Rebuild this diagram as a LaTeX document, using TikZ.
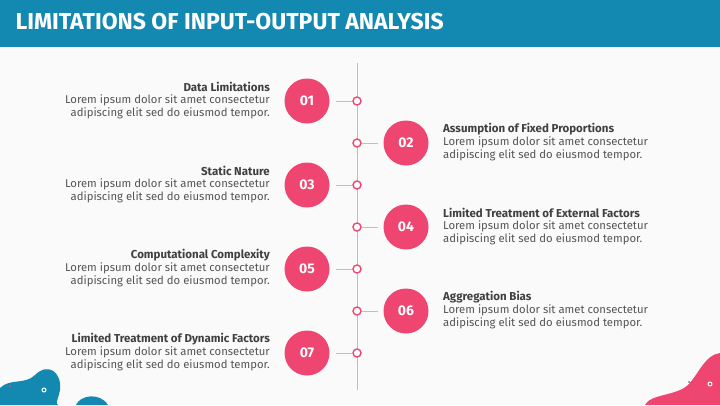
\documentclass[tikz,border=0pt]{standalone}
\usepackage{fontspec}
\setmainfont{Fira Sans}
\usetikzlibrary{positioning}
\definecolor{headblue}{HTML}{1389B2}
\definecolor{dotpink}{HTML}{EE4670}
\definecolor{txtgray}{HTML}{555555}
\definecolor{pagebg}{HTML}{FAFAFA}
\tikzset{
  num/.style={circle, fill=dotpink, minimum size=45pt, inner sep=0pt, text=white, font=\bfseries\fontsize{14}{14}\selectfont},
  tick/.style={circle, draw=dotpink, line width=1.4pt, fill=white, minimum size=8pt, inner sep=0pt},
  head/.style={font=\bfseries\fontsize{11.5}{13}\selectfont, text=black!75, inner sep=0pt},
  body/.style={font=\fontsize{11.3}{13.8}\selectfont, text=txtgray, inner sep=0pt},
}
\begin{document}
\begin{tikzpicture}[x=1pt, y=-1pt]
  \useasboundingbox (0,0) rectangle (720,405);
  \fill[pagebg] (0,0) rectangle (720,405);
  % header
  \fill[headblue] (0,0) rectangle (720,47);
  \node[anchor=west, text=white, font=\bfseries\fontsize{23}{23}\selectfont] (title) at (12,22) {LIMITATIONS OF INPUT-OUTPUT ANALYSIS};
  % blobs
  \fill[headblue] (0,405) -- (0,388) .. controls (10,378) and (25,385) .. (35,375) .. controls (48,362) and (62,372) .. (60,390) .. controls (58,400) and (55,403) .. (58,405) -- cycle;
  \fill[headblue] (76,405) .. controls (80,395) and (100,392) .. (108,405) -- cycle;
  \fill[dotpink] (720,353) .. controls (705,355) and (700,372) .. (688,385) .. controls (676,396) and (650,394) .. (645,405) -- (720,405) -- cycle;
  \draw[white, line width=1pt] (44,390) circle (2pt);
  \draw[white, line width=1pt] (710,384) circle (2pt);
  \fill[dotpink] (10,386) circle (1.2pt);
  \fill[headblue] (689,382) circle (1pt);
  % timeline
  \draw[black!25, line width=0.8pt] (357,63) -- (357,390);
  \foreach \i/\t/\side in {1/Data Limitations/L, 2/Assumption of Fixed Proportions/R, 3/Static Nature/L, 4/Limited Treatment of External Factors/R, 5/Computational Complexity/L, 6/Aggregation Bias/R, 7/Limited Treatment of Dynamic Factors/L} {
    \pgfmathsetmacro{\yy}{59+42*\i}
    \node[tick] (t\i) at (357,\yy) {};
    \if\side L
      \node[num] (n\i) at (307,\yy) {0\i};
      \draw[black!25, line width=0.8pt] (336,\yy) -- (t\i.west);
      \node[head, anchor=east] (h\i) at (270,\yy-14) {\t};
      \node[body, anchor=north east, align=right] (b\i) at (270,\yy-7) {Lorem ipsum dolor sit amet consectetur\\adipiscing elit sed do eiusmod tempor.};
    \else
      \node[num] (n\i) at (406,\yy) {0\i};
      \draw[black!25, line width=0.8pt] (t\i.east) -- (378,\yy);
      \node[head, anchor=west] (h\i) at (443,\yy-14) {\t};
      \node[body, anchor=north west, align=left] (b\i) at (443,\yy-7) {Lorem ipsum dolor sit amet consectetur\\adipiscing elit sed do eiusmod tempor.};
    \fi
  }
\end{tikzpicture}
\end{document}
